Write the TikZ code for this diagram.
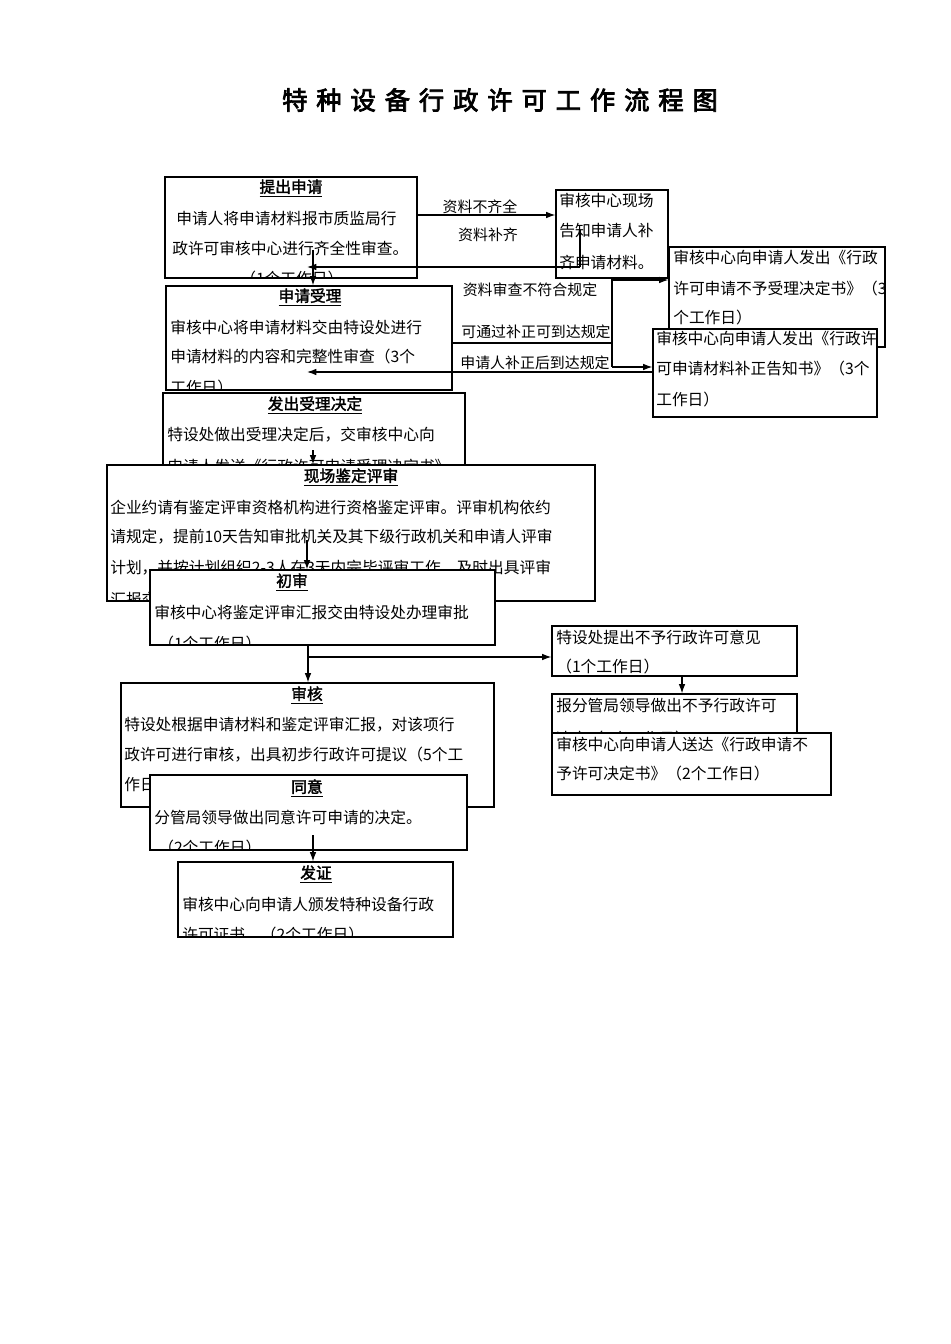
\documentclass[tikz,border=0pt]{standalone}
\usepackage{fontspec}
\usetikzlibrary{fit,arrows.meta}
\newfontfamily\cjk{Noto Sans CJK SC}
\newfontfamily\cjkb{Noto Sans CJK SC}[FakeBold=2]
\newfontfamily\cjkt{Noto Sans CJK SC}[FakeBold=3,LetterSpace=35]
\newcommand\bbox[6]{%
  \fill[white] (#2,#3) rectangle (#4,#5);
  \begin{scope}\clip (#2,#3) rectangle (#4,#5); #6 \end{scope}
  \node[draw,line width=0.9pt,inner sep=0pt,fit={(#2,#3) (#4,#5)}] (#1) {};}
\newcommand\ttl[3]{\node[tx] at (#1,#2) {\underline{\cjkb #3}};}
\newcommand\tline[3]{\node[tx,anchor=west] at (#1,#2) {#3};}
\begin{document}
\begin{tikzpicture}[x=0.75pt,y=-0.75pt,
  tx/.style={font=\cjk\fontsize{11.8}{14}\selectfont,inner sep=0pt},
  lbl/.style={font=\cjk\fontsize{11.2}{14}\selectfont,inner sep=0pt},
  arr/.style={line width=0.9pt,-{Latex[length=7pt,width=5pt]}},
  seg/.style={line width=0.9pt}]
\useasboundingbox[fill=white] (0,0) rectangle (950,1344);
\node[font=\cjkt\fontsize{19}{22}\selectfont] (title) at (500,100) {特种设备行政许可工作流程图};

\bbox{b1}{165}{177}{417}{278}{\ttl{291}{188}{提出申请}
 \tline{176}{218}{申请人将申请材料报市质监局行}\tline{172}{248}{政许可审核中心进行齐全性审查。}\tline{240}{279}{（1个工作日）}}
\bbox{b2}{556}{190}{668}{278}{\tline{559}{200}{审核中心现场}\tline{559}{231}{告知申请人补}\tline{559}{262}{齐申请材料。}}
\bbox{b3}{166}{286}{452}{390}{\ttl{310}{297}{申请受理}
 \tline{170}{327}{审核中心将申请材料交由特设处进行}\tline{170}{357}{申请材料的内容和完整性审查（3个}\tline{170}{388}{工作日）}}
\bbox{b4}{669}{247}{885}{347}{\tline{673}{258}{审核中心向申请人发出《行政}\tline{673}{289}{许可申请不予受理决定书》（3}\tline{673}{318}{个工作日）}}
\bbox{b5}{653}{329}{877}{417}{\tline{656}{339}{审核中心向申请人发出《行政许}\tline{656}{369}{可申请材料补正告知书》（3个}\tline{656}{400}{工作日）}}
\bbox{b6}{163}{393}{465}{480}{\ttl{315}{405}{发出受理决定}
 \tline{167}{435}{特设处做出受理决定后，交审核中心向}\tline{167}{467}{申请人发送《行政许可申请受理决定书》}}
\bbox{b7}{107}{465}{595}{601}{\ttl{351}{477}{现场鉴定评审}
 \tline{110}{507}{企业约请有鉴定评审资格机构进行资格鉴定评审。评审机构依约}
 \tline{110}{537}{请规定，提前10天告知审批机关及其下级行政机关和申请人评审}
 \tline{110}{568}{计划，并按计划组织2-3人在3天内完毕评审工作，及时出具评审}
 \tline{110}{600}{汇报交审核中心（此期间不计入办理时限内）}}
\bbox{b8}{150}{570}{495}{645}{\ttl{292}{582}{初审}
 \tline{154}{612}{审核中心将鉴定评审汇报交由特设处办理审批}\tline{158}{644}{（1个工作日）}}
\bbox{b9}{552}{626}{797}{676}{\tline{556}{637}{特设处提出不予行政许可意见}\tline{556}{667}{（1个工作日）}}
\bbox{b10}{552}{694}{797}{740}{\tline{556}{706}{报分管局领导做出不予行政许可}\tline{556}{739}{决定（1个工作日）}}
\bbox{b11}{552}{733}{831}{795}{\tline{556}{745}{审核中心向申请人送达《行政申请不}\tline{556}{774}{予许可决定书》（2个工作日）}}
\bbox{b12}{121}{683}{494}{807}{\ttl{307}{695}{审核}
 \tline{124}{725}{特设处根据申请材料和鉴定评审汇报，对该项行}\tline{124}{755}{政许可进行审核，出具初步行政许可提议（5个工}\tline{124}{785}{作日）}}
\bbox{b13}{150}{775}{467}{850}{\ttl{307}{788}{同意}
 \tline{154}{817}{分管局领导做出同意许可申请的决定。}\tline{158}{848}{（2个工作日）}}
\bbox{b14}{178}{862}{453}{937}{\ttl{316}{874}{发证}
 \tline{182}{904}{审核中心向申请人颁发特种设备行政}\tline{182}{935}{许可证书。（2个工作日）}}

% labels
\node[lbl] (l1) at (480,207) {资料不齐全};
\node[lbl] (l2) at (488,235) {资料补齐};
\node[lbl] (l3) at (530,290) {资料审查不符合规定};
\node[lbl] (l4) at (536,332) {可通过补正可到达规定};
\node[lbl] (l5) at (535,363) {申请人补正后到达规定};

% connectors
\draw[arr] (b1.east |- 0,215) -- (b2.west |- 0,215);
\draw[seg] (580,230) -- (580,267); \draw[arr] (580,267) -- (307,267);
\draw[arr] (313,250) -- (b3.north -| 313,0);
\draw[seg] (612,278) -- (612,367);
\draw[arr] (612,280) -- (b4.west |- 0,280);
\draw[seg] (b3.east |- 0,343) -- (612,343);
\draw[arr] (612,367) -- (b5.west |- 0,367);
\draw[arr] (b5.west |- 0,372) -- (307,372);
\draw[arr] (313,450) -- (b7.north -| 313,0);
\draw[arr] (307,540) -- (b8.north -| 307,0);
\draw[arr] (308,645) -- (b12.north -| 308,0);
\draw[arr] (308,657) -- (b9.west |- 0,657);
\draw[arr] (682,676) -- (b10.north -| 682,0);
\draw[arr] (313,835) -- (b14.north -| 313,0);
\end{tikzpicture}
\end{document}
